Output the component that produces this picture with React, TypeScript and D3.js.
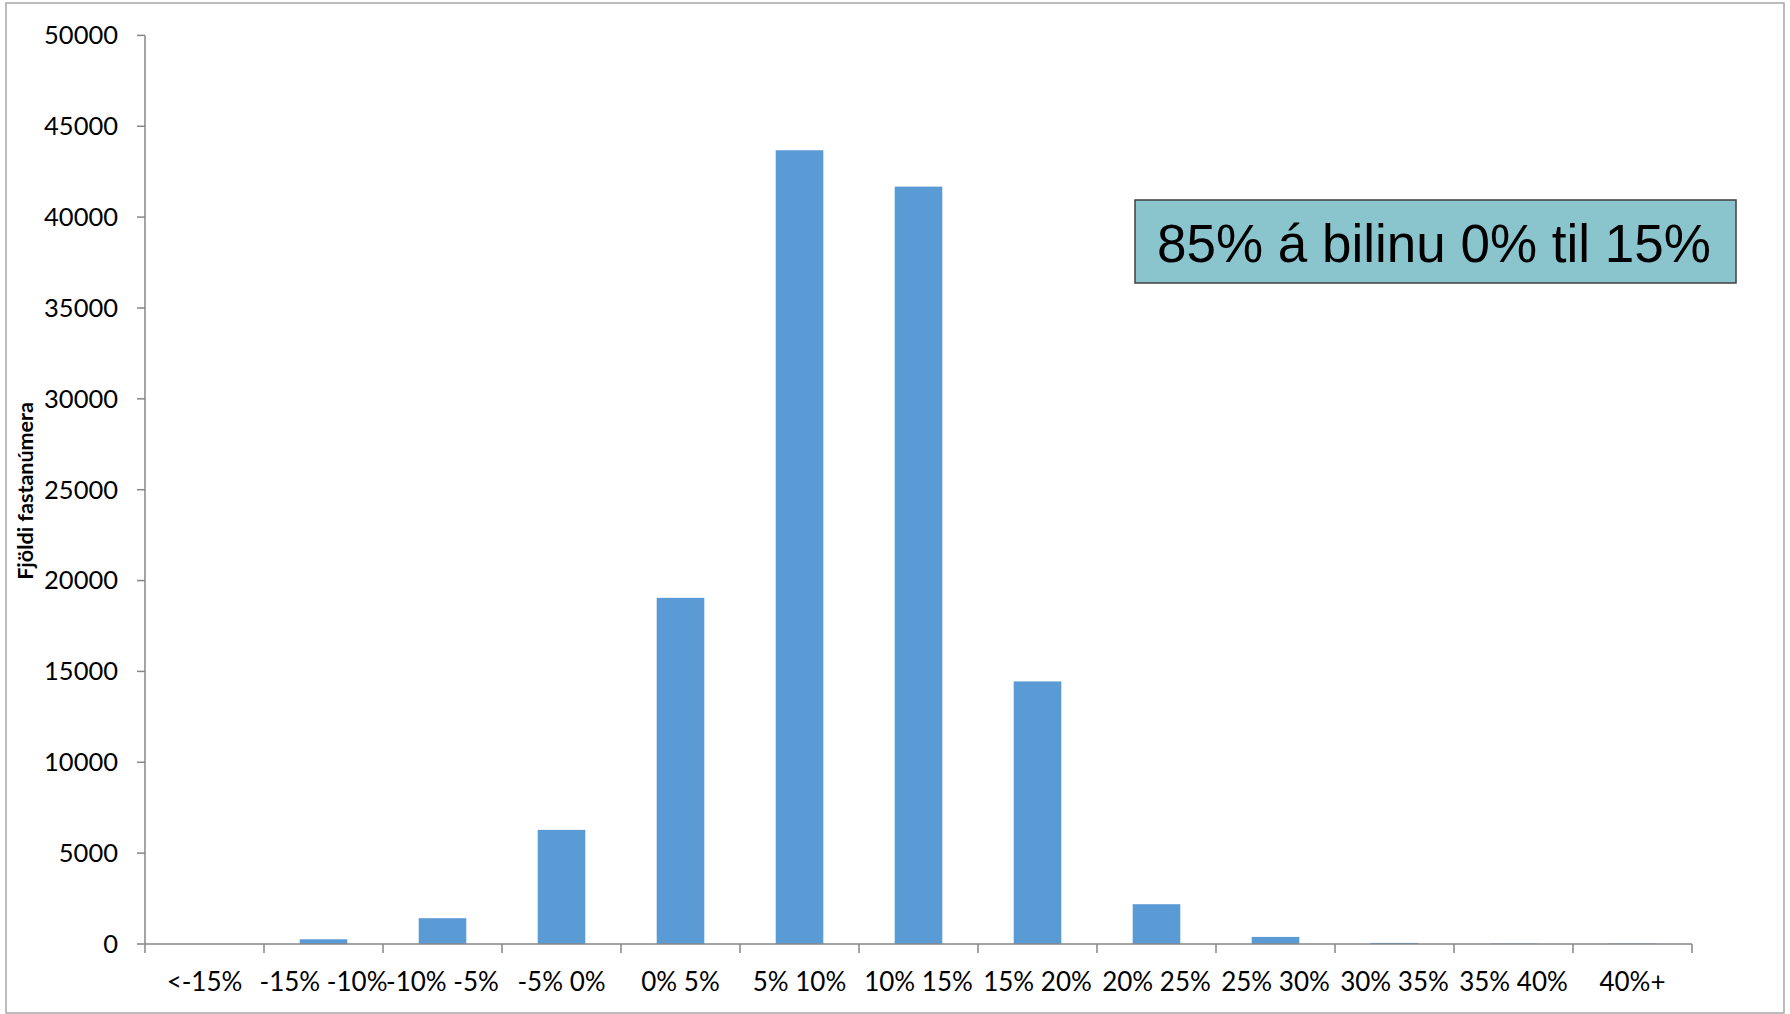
import React from "react";
import * as d3 from "d3";

const categories = ["<-15%", "-15% -10%", "-10% -5%", "-5% 0%", "0% 5%", "5% 10%", "10% 15%", "15% 20%", "20% 25%", "25% 30%", "30% 35%", "35% 40%", "40%+"];
const counts = [0, 260, 1420, 6280, 19050, 43680, 41680, 14450, 2190, 390, 60, 20, 25];
const yTicks = [0, 5000, 10000, 15000, 20000, 25000, 30000, 35000, 40000, 45000, 50000];
const yAxisTitle = "Fjöldi fastanúmera";
const annotation = "85% á bilinu 0% til 15%";

const W = 1790;
const H = 1014;
const left = 145;
const right = 1692;
const top = 35.4;
const bottom = 944;
const axisColor = "#868686";
const font = "Lato, 'Open Sans', sans-serif";

export default function App() {
  const x = d3.scaleBand<string>().domain(categories).range([left, right]).paddingInner(0.6).paddingOuter(0.3);
  const xb = d3.scaleBand<string>().domain(categories).range([left, right]);
  const y = d3.scaleLinear().domain([0, 50000]).range([bottom, top]);

  return (
    <svg width={W} height={H} style={{ position: "absolute", left: 0, top: 0, background: "#fff" }}>
      <rect x={6} y={3} width={1778} height={1010} fill="#fff" stroke="#a6a6a6" strokeWidth={1.5} />
      {categories.map((c, i) => (
        <rect key={c} x={x(c)} y={y(counts[i])} width={x.bandwidth()} height={bottom - y(counts[i])} fill="#5B9BD5" />
      ))}
      <line x1={left} x2={left} y1={top} y2={bottom} stroke={axisColor} strokeWidth={1.5} />
      {yTicks.map((t) => (
        <g key={t}>
          <line x1={left - 8} x2={left} y1={y(t)} y2={y(t)} stroke={axisColor} strokeWidth={1.5} />
          <text x={118} y={y(t)} dy="0.35em" textAnchor="end" fontFamily={font} fontSize={25.5} fill="#000">{t}</text>
        </g>
      ))}
      <line x1={left} x2={right} y1={bottom} y2={bottom} stroke={axisColor} strokeWidth={1.5} />
      {categories.map((c) => (
        <line key={"t" + c} x1={xb(c)} x2={xb(c)} y1={bottom} y2={bottom + 9} stroke={axisColor} strokeWidth={1.5} />
      ))}
      <line x1={right} x2={right} y1={bottom} y2={bottom + 9} stroke={axisColor} strokeWidth={1.5} />
      {categories.map((c) => (
        <text key={"l" + c} x={(xb(c) as number) + xb.bandwidth() / 2} y={982} dy="0.35em" textAnchor="middle" fontFamily={font} fontSize={26} fill="#000">{c}</text>
      ))}
      <text transform={`translate(25,491) rotate(-90)`} dy="0.35em" textAnchor="middle" fontFamily={font} fontWeight="bold" fontSize={21.5} fill="#000">{yAxisTitle}</text>
      <rect x={1135} y={200} width={601} height={83} fill="#8AC5CE" stroke="#404040" strokeWidth={1.5} />
      <text x={1434} y={243} dy="0.35em" textAnchor="middle" fontFamily="'Liberation Sans', Arial, sans-serif" fontSize={53} fill="#000">{annotation}</text>
    </svg>
  );
}
